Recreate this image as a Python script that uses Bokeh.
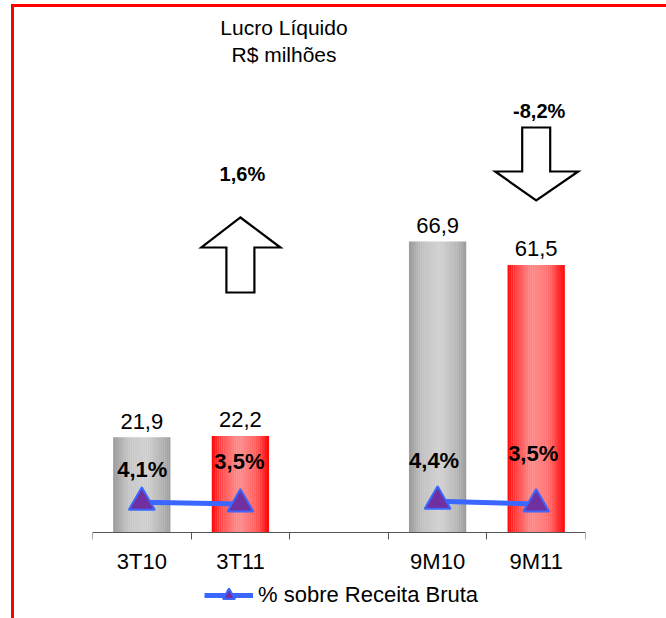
import numpy as np
from bokeh.plotting import figure
from bokeh.models import (Range1d, FixedTicker, Legend, LegendItem, Label,
                          PolyAnnotation, ColumnDataSource)
from bokeh.core.properties import value
from bokeh.embed import file_html
from bokeh.resources import INLINE

# ---------------- data ----------------
categories = ["3T10", "3T11", "", "9M10", "9M11"]
periods = ["3T10", "3T11", "9M10", "9M11"]
lucro = [21.9, 22.2, 66.9, 61.5]
lucro_labels = ["21,9", "22,2", "66,9", "61,5"]
margem = [4.1, 3.5, 4.4, 3.5]
margem_labels = ["4,1%", "3,5%", "4,4%", "3,5%"]
variacao_labels = ["1,6%", "-8,2%"]
title_lines = ["Lucro Líquido", "R$ milhões"]
legend_label = "% sobre Receita Bruta"

# ---------------- layout constants ----------------
FONT = "Liberation Sans"
FL, FR, FT, FB = 78, 81, 0, 30
frame_w, frame_h = 493, 610
BASE = 85                       # px from frame bottom up to the value axis (y=0)
ncat = len(categories)
cat_px = frame_w / ncat
PX_PER_UNIT = 4.35
PX_PER_PCT = 3.0
PCT_AT_AXIS = -6.0

xpos = [categories.index(c) for c in periods]

y0 = -BASE / PX_PER_UNIT
p = figure(frame_width=frame_w, frame_height=frame_h,
           output_backend="svg", toolbar_location=None,
           x_range=Range1d(-0.5, ncat - 0.5),
           y_range=Range1d(y0, y0 + frame_h / PX_PER_UNIT),
           min_border_left=FL, min_border_right=FR, min_border_top=FT,
           min_border_bottom=FB, background_fill_color="white",
           border_fill_color="white", outline_line_color=None)
p0 = PCT_AT_AXIS - BASE / PX_PER_PCT
p.extra_y_ranges = {"pct": Range1d(p0, p0 + frame_h / PX_PER_PCT)}
p.xgrid.visible = False
p.ygrid.visible = False
p.yaxis.visible = False
p.styles = {"margin-left": "11px", "margin-top": "4px",
            "border-left": "3px solid #ff0000",
            "border-top": "3px solid #ff0000"}

# ---------------- gradient bars (stripes) ----------------
def hex2rgb(h):
    h = h.lstrip("#")
    return np.array([int(h[i:i + 2], 16) for i in (0, 2, 4)], dtype=float)

def mix(c1, c2, t):
    c = hex2rgb(c1) * (1 - t) + hex2rgb(c2) * t
    return "#%02x%02x%02x" % tuple(int(round(v)) for v in c)

bar_w = 0.578
N = 30
palettes = {0: ("#999999", "#cfcfcf"), 1: ("#ff0000", "#ff8585")}
sx, stop, scol, sw = [], [], [], []
for k, (xc, v) in enumerate(zip(xpos, lucro)):
    edge, center = palettes[k % 2]
    for i in range(N):
        t = (i + 0.5) / N
        f = np.sin(np.pi * t) ** 0.9
        sx.append(xc - bar_w / 2 + t * bar_w)
        stop.append(v)
        scol.append(mix(edge, center, f))
        sw.append(bar_w / N * 1.15)
p.vbar(x=sx, top=stop, width=sw, bottom=0, fill_color=scol, line_color=None)

# value labels
p.text(x=xpos, y=lucro, text=lucro_labels, text_align="center",
       text_baseline="alphabetic", y_offset=-16, text_font=value(FONT),
       text_font_size="22px", text_color="black")

# ---------------- percentage line ----------------
line_xs = [[xpos[0], xpos[1]], [xpos[2], xpos[3]]]
line_ys = [[margem[0], margem[1]], [margem[2], margem[3]]]
lr = p.multi_line(xs=line_xs, ys=line_ys, y_range_name="pct",
                  line_color="#3b66ff", line_width=5)
sr = p.scatter(x=xpos, y=margem, y_range_name="pct", marker="triangle",
               size=26, fill_color="#7030a0", line_color="#3b66ff",
               line_width=2)

pct_src = ColumnDataSource(dict(x=xpos, y=margem, t=margem_labels,
                                dx=[0.5, -1, -3.5, -3],
                                dy=[-33, -43, -41, -51]))
p.text(x="x", y="y", text="t", source=pct_src, y_range_name="pct",
       x_offset="dx", y_offset="dy", text_align="center",
       text_baseline="middle", text_font=value(FONT), text_font_size="22px",
       text_font_style="bold", text_color="black")

# ---------------- axis (drawn at y = 0) ----------------
ax = p.xaxis[0]
ax.fixed_location = 0
ax.ticker = FixedTicker(ticks=xpos,
                        minor_ticks=[i - 0.5 for i in range(ncat + 1)])
ax.major_label_overrides = {x: c for x, c in zip(xpos, periods)}
ax.major_tick_out = 0
ax.major_tick_in = 0
ax.minor_tick_out = 7
ax.minor_tick_in = 0
ax.minor_tick_line_color = "#555555"
ax.axis_line_color = "#555555"
ax.major_label_standoff = 9
ax.major_label_text_font = FONT
ax.major_label_text_font_size = "22px"
ax.major_label_text_color = "black"

# ---------------- arrows (annotations, screen units) ----------------
def cat_center_px(i):
    return (i + 0.5) * cat_px

cx_up = cat_center_px(xpos[1])
up_xs = [cx_up, cx_up + 40, cx_up + 14, cx_up + 14, cx_up - 14, cx_up - 14, cx_up - 39]
up_ys = [BASE + v for v in [315, 285, 285, 240, 240, 285, 285]]
cx_dn = cat_center_px(xpos[3])
dn_xs = [cx_dn - 14, cx_dn + 14, cx_dn + 14, cx_dn + 42, cx_dn, cx_dn - 41, cx_dn - 14]
dn_ys = [BASE + v for v in [405, 405, 361, 361, 332, 361, 361]]
for xs_, ys_ in [(up_xs, up_ys), (dn_xs, dn_ys)]:
    p.add_layout(PolyAnnotation(xs=xs_, ys=ys_, xs_units="screen",
                                ys_units="screen", fill_color="white",
                                fill_alpha=1, line_color="black",
                                line_alpha=1, line_width=2.2,
                                line_join="miter"))

for lbl, (lx, ly) in zip(variacao_labels, [(cx_up + 2, 359), (cx_dn + 3, 422)]):
    p.add_layout(Label(x=lx, y=BASE + ly, x_units="screen", y_units="screen",
                       text=lbl, text_align="center", text_baseline="middle",
                       text_font=FONT, text_font_size="20px",
                       text_font_style="bold", text_color="black"))

# ---------------- title ----------------
for txt, ty in zip(title_lines, [505, 478]):
    p.add_layout(Label(x=191.5, y=BASE + ty, x_units="screen",
                       y_units="screen", text=txt, text_align="center",
                       text_baseline="alphabetic", text_font=FONT,
                       text_font_size="21px", text_color="black"))

# ---------------- legend (inside the frame, below the axis) ----------------
legend = Legend(items=[LegendItem(label=legend_label, renderers=[lr, sr])],
                location=(112, 7), orientation="horizontal",
                padding=0, margin=0, spacing=0, label_standoff=5,
                glyph_width=49, glyph_height=30, label_height=30,
                label_text_font=FONT, label_text_font_size="22px",
                label_text_color="black", border_line_color=None,
                background_fill_alpha=0)
p.add_layout(legend)

open("out.html", "w").write(file_html(p, INLINE))
